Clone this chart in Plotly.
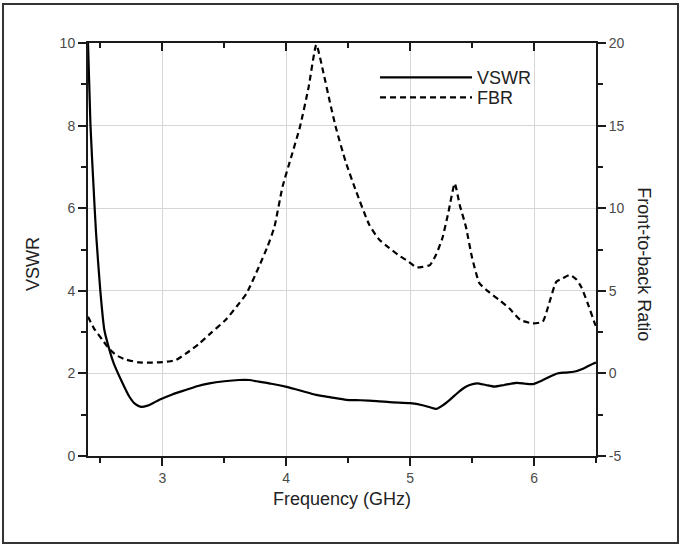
import plotly.graph_objects as go

# ---------------- data ----------------
vswr_freq = [2.40, 2.42, 2.445, 2.465, 2.50, 2.532, 2.573, 2.607, 2.667, 2.733,
             2.78, 2.828, 2.88, 2.93, 2.976, 3.08, 3.19, 3.28, 3.38, 3.50, 3.62, 3.70,
             3.78, 3.88, 3.994, 4.12, 4.24, 4.36, 4.485, 4.60, 4.73, 4.86, 5.00, 5.10,
             5.16, 5.21, 5.26, 5.32, 5.38, 5.43, 5.48, 5.54, 5.61, 5.68, 5.76, 5.86,
             5.93, 5.99, 6.08, 6.18, 6.25, 6.32, 6.40, 6.48, 6.50]
vswr_vals = [10.0, 8.0, 6.5, 5.4, 3.98, 3.05, 2.57, 2.25, 1.84, 1.44,
             1.26, 1.19, 1.22, 1.29, 1.36, 1.49, 1.60, 1.69, 1.76, 1.81, 1.84, 1.84,
             1.80, 1.75, 1.68, 1.58, 1.48, 1.42, 1.36, 1.35, 1.33, 1.30, 1.28, 1.23,
             1.18, 1.14, 1.22, 1.36, 1.52, 1.64, 1.72, 1.76, 1.72, 1.68, 1.72, 1.77,
             1.75, 1.74, 1.85, 1.99, 2.02, 2.04, 2.12, 2.24, 2.26]

fbr_freq = [2.40, 2.45, 2.517, 2.57, 2.626, 2.70, 2.81, 2.90, 2.976, 3.05, 3.11, 3.20,
            3.30, 3.40, 3.51, 3.60, 3.68, 3.78, 3.85, 3.905, 3.97, 4.04, 4.11, 4.18,
            4.243, 4.30, 4.35, 4.40, 4.48, 4.565, 4.67, 4.75, 4.83, 4.916, 4.98, 5.05,
            5.10, 5.16, 5.21, 5.26, 5.31, 5.36, 5.40, 5.45, 5.50, 5.56, 5.64, 5.72,
            5.80, 5.89, 5.99, 6.07, 6.12, 6.18, 6.23, 6.29, 6.34, 6.38, 6.43, 6.49, 6.50]
fbr_vals = [3.43, 2.7, 2.02, 1.5, 1.11, 0.85, 0.67, 0.65, 0.67, 0.72, 0.81, 1.25,
            1.82, 2.5, 3.23, 4.05, 4.85, 6.46, 7.7, 8.88, 11.3, 13.1, 14.9, 17.3,
            19.9, 18.2, 16.5, 14.9, 12.8, 11.0, 9.0, 8.1, 7.6, 7.1, 6.8, 6.42,
            6.45, 6.56, 7.2, 8.18, 9.8, 11.5, 10.2, 8.88, 7.0, 5.45, 4.9, 4.44,
            3.94, 3.23, 3.03, 3.13, 4.2, 5.55, 5.75, 5.96, 5.7, 5.25, 4.3, 3.03, 2.85]

x_ticks = [3, 4, 5, 6]
y_left_ticks = [0, 2, 4, 6, 8, 10]
y_right_ticks = [-5, 0, 5, 10, 15, 20]
y_right_labels = ["-5", "0", "5", "10", "15", "20"]

FONT = "Liberation Sans, Arial, sans-serif"
TICK_COLOR = "#4a4a4a"
AXIS_COLOR = "#1a1a1a"

fig = go.Figure()
fig.add_trace(go.Scatter(
    x=vswr_freq, y=vswr_vals, name="VSWR", mode="lines",
    line=dict(color="black", width=2.2, shape="spline", smoothing=0.6),
    xaxis="x", yaxis="y", legend="legend"))
fig.add_trace(go.Scatter(
    x=fbr_freq, y=fbr_vals, name="FBR", mode="lines",
    line=dict(color="black", width=2.2, dash="6px,4px", shape="spline", smoothing=0.5),
    xaxis="x2", yaxis="y2", legend="legend2"))

tickfont = dict(family=FONT, size=14, color=TICK_COLOR)
legfont = dict(family=FONT, size=18, color="#222")

fig.update_layout(
    width=681, height=546,
    margin=dict(l=88, r=85, t=43, b=90),
    paper_bgcolor="white", plot_bgcolor="white",
    font=dict(family=FONT),
    showlegend=True,
    legend=dict(x=0.565, y=0.916, xanchor="left", yanchor="middle",
                bgcolor="rgba(0,0,0,0)", borderwidth=0, font=legfont, itemwidth=92),
    legend2=dict(x=0.565, y=0.8676, xanchor="left", yanchor="middle",
                 bgcolor="rgba(0,0,0,0)", borderwidth=0, font=legfont, itemwidth=92),
    xaxis=dict(range=[2.4, 6.5], tickvals=x_ticks, ticks="outside", ticklen=8,
               tickwidth=2, tickcolor=AXIS_COLOR, showline=True, linewidth=2,
               linecolor=AXIS_COLOR, showgrid=True, gridcolor="#d6d6d6", gridwidth=1,
               zeroline=False, tickfont=tickfont,
               minor=dict(dtick=0.5, tick0=2.5, ticks="outside", ticklen=5,
                          tickwidth=2, tickcolor=AXIS_COLOR, showgrid=False)),
    xaxis2=dict(range=[2.4, 6.5], overlaying="x", side="top", tickvals=x_ticks,
                ticks="inside", ticklen=8, tickwidth=2, tickcolor=AXIS_COLOR,
                showline=True, linewidth=2, linecolor=AXIS_COLOR,
                showticklabels=False, showgrid=False, zeroline=False,
                minor=dict(dtick=0.5, tick0=2.5, ticks="inside", ticklen=5,
                           tickwidth=2, tickcolor=AXIS_COLOR, showgrid=False)),
    yaxis=dict(range=[0, 10], tickvals=y_left_ticks, ticks="outside", ticklen=8,
               tickwidth=2, tickcolor=AXIS_COLOR, showline=True, linewidth=2,
               linecolor=AXIS_COLOR, showgrid=True, gridcolor="#d6d6d6", gridwidth=1,
               zeroline=False, tickfont=tickfont,
               minor=dict(dtick=1, tick0=0, ticks="outside", ticklen=5,
                          tickwidth=2, tickcolor=AXIS_COLOR, showgrid=False)),
    yaxis2=dict(range=[-5, 20], overlaying="y", side="right", tickvals=y_right_ticks,
                ticktext=y_right_labels,
                ticks="outside", ticklen=8, tickwidth=2, tickcolor=AXIS_COLOR,
                showline=True, linewidth=2, linecolor=AXIS_COLOR,
                showgrid=False, zeroline=False, tickfont=tickfont,
                minor=dict(dtick=2.5, tick0=0, ticks="outside", ticklen=5,
                           tickwidth=2, tickcolor=AXIS_COLOR, showgrid=False)),
)

title_font = dict(family=FONT, size=18, color="#222")
fig.add_annotation(text="VSWR", xref="paper", yref="paper", x=-0.108, y=0.465,
                   textangle=-90, showarrow=False, font=title_font,
                   xanchor="center", yanchor="middle")
fig.add_annotation(text="Front-to-back Ratio", xref="paper", yref="paper",
                   x=1.094, y=0.465, textangle=90, showarrow=False, font=title_font,
                   xanchor="center", yanchor="middle")
fig.add_annotation(text="Frequency (GHz)", xref="paper", yref="paper", x=0.5,
                   y=-0.105, showarrow=False, font=title_font,
                   xanchor="center", yanchor="middle")

# outer frame around the whole figure
fig.add_shape(type="rect", xref="paper", yref="paper",
              x0=-0.1673, x1=1.1614, y0=-0.2107, y1=1.0944,
              line=dict(color="#333", width=2), fillcolor="rgba(0,0,0,0)", layer="below")

fig.write_html("out.html",
               config={"displayModeBar": False},
               post_script="document.body.style.margin='0';document.body.style.padding='0';")
